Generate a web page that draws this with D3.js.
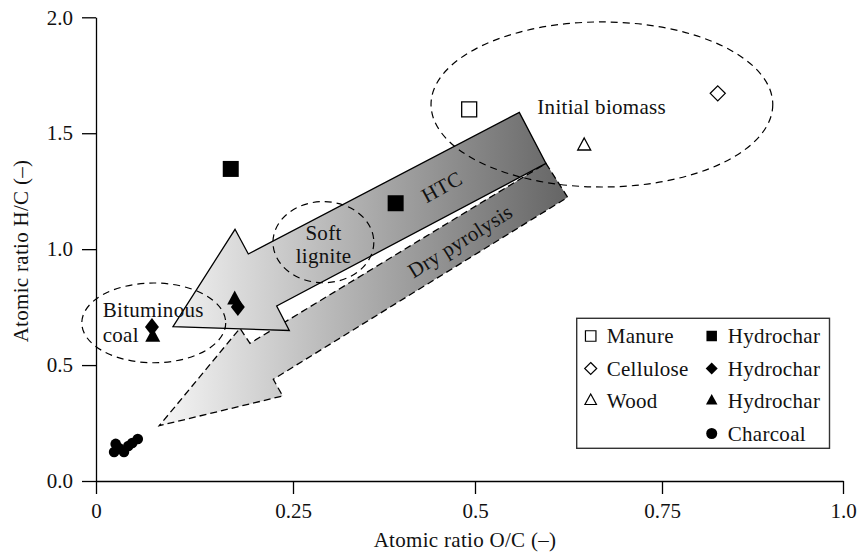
<!DOCTYPE html>
<html>
<head>
<meta charset="utf-8">
<script src="https://cdn.jsdelivr.net/npm/d3@7"></script>
<style>
  html, body { margin: 0; padding: 0; background: #fff; }
  svg { display: block; font-family: "Liberation Serif", "DejaVu Serif", serif; }
  .lbl { font-size: 21px; letter-spacing: 0.3px; fill: #111; }
</style>
</head>
<body>
<svg id="chart" width="857" height="553"></svg>
<script>
// Van Krevelen diagram: atomic O/C against atomic H/C

const xTicks = [0, 0.25, 0.5, 0.75, 1.0];
const xTickLabels = ["0", "0.25", "0.5", "0.75", "1.0"];
const yTicks = [0, 0.5, 1.0, 1.5, 2.0];
const yTickLabels = ["0.0", "0.5", "1.0", "1.5", "2.0"];

// Raw feedstocks
const feedstocks = ["Manure", "Cellulose", "Wood"];
const feedstockOC = [0.492, 0.827, 0.646];
const feedstockHC = [1.603, 1.672, 1.445];

// Hydrochars from each feedstock
const hydrocharManureOC = [0.171, 0.391];
const hydrocharManureHC = [1.346, 1.198];
const hydrocharCelluloseOC = [0.071, 0.180];
const hydrocharCelluloseHC = [0.664, 0.750];
const hydrocharWoodOC = [0.072, 0.176];
const hydrocharWoodHC = [0.621, 0.781];

// Charcoals from dry pyrolysis
const charcoalOC = [0.023, 0.025, 0.029, 0.0355, 0.041, 0.046, 0.053];
const charcoalHC = [0.125, 0.160, 0.142, 0.125, 0.151, 0.164, 0.181];

// Fuel regions (dashed ellipses), given as O/C and H/C extents
const regionNames = ["Initial biomass", "Soft lignite", "Bituminous coal"];
const regionOC = [[0.4396, 0.903], [0.2246, 0.361], [-0.018, 0.1646]];
const regionHC = [[1.268, 1.980], [0.855, 1.205], [0.510, 0.854]];

// Conversion pathways as block arrows (vertices in O/C, H/C)
const htcArrowOC = [0.5592, 0.5949, 0.2293, 0.2453, 0.0977, 0.1764, 0.1933];
const htcArrowHC = [1.590, 1.370, 0.7548, 0.6491, 0.6655, 1.0856, 0.9791];
const pyroArrowOC = [0.5949, 0.6239, 0.2250, 0.2369, 0.0803, 0.1827, 0.1954];
const pyroArrowHC = [1.370, 1.2236, 0.4386, 0.3666, 0.2385, 0.6586, 0.5939];

const svg = d3.select("#chart");

const x = d3.scaleLinear().domain(xTicks).range([96, 293, 475, 662, 843]);
const y = d3.scaleLinear().domain([0, 2]).range([481, 17.3]);

// shared horizontal shading for both pathway arrows
const defs = svg.append("defs");
const grad = defs.append("linearGradient")
  .attr("id", "flow")
  .attr("gradientUnits", "userSpaceOnUse")
  .attr("x1", x(0.08)).attr("y1", 0)
  .attr("x2", x(0.625)).attr("y2", 0);
grad.append("stop").attr("offset", 0).attr("stop-color", "#f6f6f6");
grad.append("stop").attr("offset", 1).attr("stop-color", "#646464");

const line = d3.line().x(d => x(d[0])).y(d => y(d[1])).curve(d3.curveLinearClosed);

// Dry pyrolysis arrow (dashed outline), underneath
svg.append("path")
  .attr("d", line(d3.zip(pyroArrowOC, pyroArrowHC)))
  .attr("fill", "url(#flow)")
  .attr("stroke", "#000")
  .attr("stroke-width", 1.3)
  .attr("stroke-dasharray", "7,4");

// HTC arrow (solid outline)
svg.append("path")
  .attr("d", line(d3.zip(htcArrowOC, htcArrowHC)))
  .attr("fill", "url(#flow)")
  .attr("stroke", "#000")
  .attr("stroke-width", 1.3)
  .attr("stroke-linejoin", "miter");

// Region ellipses
regionNames.forEach((name, i) => {
  const x0 = x(regionOC[i][0]), x1 = x(regionOC[i][1]);
  const y0 = y(regionHC[i][1]), y1 = y(regionHC[i][0]);
  svg.append("ellipse")
    .attr("cx", (x0 + x1) / 2).attr("cy", (y0 + y1) / 2)
    .attr("rx", (x1 - x0) / 2).attr("ry", (y1 - y0) / 2)
    .attr("fill", "none")
    .attr("stroke", "#000")
    .attr("stroke-width", 1.2)
    .attr("stroke-dasharray", "7,5");
});

// Axes
const xAxis = d3.axisBottom(x).tickValues(xTicks)
  .tickFormat((d, i) => xTickLabels[i]).tickSizeInner(13).tickSizeOuter(0).tickPadding(8);
const yAxis = d3.axisLeft(y).tickValues(yTicks)
  .tickFormat((d, i) => yTickLabels[i]).tickSizeInner(14).tickSizeOuter(0).tickPadding(9);

const gx = svg.append("g").attr("transform", `translate(0,${y(0)})`).call(xAxis);
const gy = svg.append("g").attr("transform", `translate(${x(0)},0)`).call(yAxis);

[gx, gy].forEach(g => {
  g.selectAll("path.domain").attr("stroke", "#000").attr("stroke-width", 1.3);
  g.selectAll(".tick line").attr("stroke", "#000").attr("stroke-width", 1.3);
  g.selectAll(".tick text")
    .attr("fill", "#111")
    .style("font-family", '"Liberation Serif", serif')
    .style("font-size", "21px");
});
gx.selectAll(".tick text").attr("dy", null).attr("y", 36.5);

// Axis titles
svg.append("text")
  .attr("class", "lbl")
  .attr("x", 465).attr("y", 546.5)
  .attr("text-anchor", "middle")
  .text("Atomic ratio O/C (–)");
svg.append("text")
  .attr("class", "lbl")
  .attr("transform", `translate(28,251) rotate(-90)`)
  .attr("text-anchor", "middle")
  .text("Atomic ratio H/C (–)");

// Marker shapes
const diamondShape = (hw, hh) => ({
  draw(ctx) {
    ctx.moveTo(0, -hh); ctx.lineTo(hw, 0); ctx.lineTo(0, hh); ctx.lineTo(-hw, 0); ctx.closePath();
  }
});
const squareShape = s => ({
  draw(ctx) { ctx.rect(-s / 2, -s / 2, s, s); }
});
const triangleShape = (w, h) => ({
  draw(ctx) {
    ctx.moveTo(0, -h * 2 / 3); ctx.lineTo(w / 2, h / 3); ctx.lineTo(-w / 2, h / 3); ctx.closePath();
  }
});

function plotPoints(ocs, hcs, shape, filled) {
  svg.append("g").selectAll("path")
    .data(d3.zip(ocs, hcs))
    .join("path")
    .attr("transform", d => `translate(${x(d[0])},${y(d[1])})`)
    .attr("d", d3.symbol().type(shape).size(1)())
    .attr("fill", filled ? "#000" : "#fff")
    .attr("stroke", "#000")
    .attr("stroke-width", filled ? 0 : 1.3);
}

// Raw feedstocks (open markers)
plotPoints([feedstockOC[0]], [feedstockHC[0]], squareShape(15), false);
plotPoints([feedstockOC[1]], [feedstockHC[1]], diamondShape(7.5, 7.5), false);
plotPoints([feedstockOC[2]], [feedstockHC[2]], triangleShape(13, 12), false);

// Hydrochars (filled markers)
plotPoints(hydrocharManureOC, hydrocharManureHC, squareShape(16), true);
plotPoints(hydrocharWoodOC, hydrocharWoodHC, triangleShape(15, 14), true);
plotPoints(hydrocharCelluloseOC, hydrocharCelluloseHC, diamondShape(7, 9), true);

// Charcoals
svg.append("g").selectAll("circle")
  .data(d3.zip(charcoalOC, charcoalHC))
  .join("circle")
  .attr("cx", d => x(d[0])).attr("cy", d => y(d[1]))
  .attr("r", 5.3).attr("fill", "#000");

// Region and pathway labels
function label(txt, oc, hc, anchor, rotate) {
  return svg.append("text")
    .attr("class", "lbl")
    .attr("transform", `translate(${x(oc)},${y(hc)})` + (rotate ? ` rotate(${rotate})` : ""))
    .attr("text-anchor", anchor)
    .text(txt);
}
label("Initial biomass", 0.5833, 1.583, "start");
label("Soft", 0.2919, 1.0394, "middle");
label("lignite", 0.2919, 0.9416, "middle");
label("Bituminous", 0.0085, 0.706, "start");
label("coal", 0.0085, 0.598, "start");
label("HTC", 0.4543, 1.269, "middle", -29).attr("dy", "0.35em");
label("Dry pyrolysis", 0.4794, 1.035, "middle", -32).attr("dy", "0.35em");

// Legend
const legend = svg.append("g");
legend.append("rect")
  .attr("x", 576.7).attr("y", 318.3).attr("width", 252.8).attr("height", 130)
  .attr("fill", "#fff").attr("stroke", "#333").attr("stroke-width", 1.4);

const legendNames = ["Manure", "Cellulose", "Wood", "Hydrochar", "Hydrochar", "Hydrochar", "Charcoal"];
const legendShapes = [squareShape(10.5), diamondShape(6, 6), triangleShape(11.5, 10.5),
                      squareShape(10.5), diamondShape(6, 6), triangleShape(11.5, 10.5), null];
const legendFilled = [false, false, false, true, true, true, true];
const legendCol = [0, 0, 0, 1, 1, 1, 1];
const legendRow = [0, 1, 2, 0, 1, 2, 3];
const colX = [590.7, 711.7];
legendNames.forEach((name, i) => {
  const cx = colX[legendCol[i]];
  const cy = 336 + legendRow[i] * 32.5;
  if (legendShapes[i]) {
    legend.append("path")
      .attr("transform", `translate(${cx},${cy})`)
      .attr("d", d3.symbol().type(legendShapes[i]).size(1)())
      .attr("fill", legendFilled[i] ? "#000" : "#fff")
      .attr("stroke", "#000")
      .attr("stroke-width", legendFilled[i] ? 0 : 1.2);
  } else {
    legend.append("circle").attr("cx", cx).attr("cy", cy).attr("r", 5.5).attr("fill", "#000");
  }
  legend.append("text")
    .attr("class", "lbl")
    .attr("x", cx + 16).attr("y", cy + 7)
    .text(name);
});
</script>
</body>
</html>
